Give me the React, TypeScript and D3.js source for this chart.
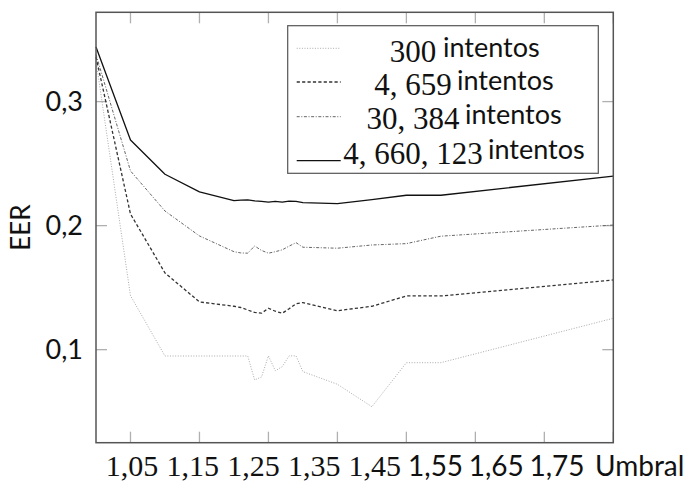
import React from "react";
import * as d3 from "d3";

const umbral = [1.0, 1.05, 1.1, 1.15, 1.2, 1.21, 1.22, 1.23, 1.24, 1.25, 1.26, 1.27, 1.28, 1.29, 1.3, 1.35, 1.4, 1.45, 1.5, 1.75];
const eer300 = [0.333, 0.1435, 0.0949, 0.0949, 0.0949, 0.0949, 0.0949, 0.0756, 0.078, 0.095, 0.083, 0.0863, 0.095, 0.095, 0.0823, 0.0721, 0.054, 0.0895, 0.0895, 0.1253];
const eer4659 = [0.336, 0.2094, 0.1619, 0.1385, 0.135, 0.134, 0.132, 0.13, 0.1294, 0.1334, 0.131, 0.1294, 0.133, 0.137, 0.138, 0.1314, 0.135, 0.1433, 0.1433, 0.1562];
const eer30384 = [0.338, 0.2441, 0.2118, 0.1917, 0.179, 0.178, 0.1778, 0.1836, 0.18, 0.1778, 0.179, 0.1805, 0.1835, 0.1863, 0.1826, 0.1818, 0.1844, 0.1855, 0.1915, 0.2005];
const eer4660123 = [0.344, 0.269, 0.2414, 0.2272, 0.2202, 0.2205, 0.2208, 0.22, 0.2195, 0.219, 0.2195, 0.219, 0.2198, 0.2195, 0.2185, 0.2177, 0.221, 0.2245, 0.2245, 0.24];

const seriesNumbers = ["300", "4, 659", "30, 384", "4, 660, 123"];
const seriesWord = "intentos";
const xTickValues = [1.05, 1.15, 1.25, 1.35, 1.45, 1.55, 1.65, 1.75];
const xTickLabels = ["1,05", "1,15", "1,25", "1,35", "1,45", "1,55", "1,65", "1,75"];
const yTickValues = [0.1, 0.2, 0.3];
const yTickLabels = ["0,1", "0,2", "0,3"];
const xLabel = "Umbral";
const yLabel = "EER";

const styles = [
  { stroke: "#aaaaaa", width: 1, dash: "1 1.6" },
  { stroke: "#333333", width: 1.3, dash: "3.2 2.2" },
  { stroke: "#666666", width: 1, dash: "3 1.6 1 1.6" },
  { stroke: "#111111", width: 1.3, dash: "" },
];

export default function App() {
  const L = 96, R = 613.3, T = 12.3, B = 442.7;
  const x = d3.scaleLinear().domain([1.0, 1.75]).range([L, R]);
  const y = d3.scaleLinear().domain([0.025, 0.372]).range([B, T]);
  const all = [eer300, eer4659, eer30384, eer4660123];
  const line = d3
    .line<number>()
    .x((_, i) => x(umbral[i]))
    .y((d) => y(d));
  const labelPos = d3.scalePoint<string>().domain(xTickLabels).range([132, 557]);
  const serifFont = "'Liberation Serif', 'DejaVu Serif', serif";
  const sansFont = "Lato, 'Open Sans', sans-serif";
  const legendRows = [48.3, 82, 116.7, 160.7];
  const legendBase = [61.5, 95, 128.5, 164];
  const wordStart = [443, 457, 465, 488];

  return (
    <svg width={684} height={484} style={{ position: "absolute", left: 0, top: 0, background: "#fff" }}>
      <rect x={0} y={0} width={684} height={484} fill="#fff" />
      {xTickValues.map((v) => (
        <g key={"xt" + v} stroke="#b0b0b0" strokeWidth={1.3}>
          <line x1={x(v)} x2={x(v)} y1={B} y2={B - 11} />
          <line x1={x(v)} x2={x(v)} y1={T} y2={T + 11} />
        </g>
      ))}
      {yTickValues.map((v) => (
        <g key={"yt" + v} stroke="#b0b0b0" strokeWidth={1.3}>
          <line x1={L} x2={L + 11} y1={y(v)} y2={y(v)} />
          <line x1={R} x2={R - 11} y1={y(v)} y2={y(v)} />
        </g>
      ))}
      {all.map((s, i) => (
        <path
          key={"s" + i}
          d={line(s) || ""}
          fill="none"
          stroke={styles[i].stroke}
          strokeWidth={styles[i].width}
          strokeDasharray={styles[i].dash}
          strokeLinejoin="round"
        />
      ))}
      <rect x={L} y={T} width={R - L} height={B - T} fill="none" stroke="#555" strokeWidth={1.5} />
      <rect x={287.7} y={25.7} width={310.6} height={147.6} fill="#fff" stroke="#555" strokeWidth={1.2} />
      {seriesNumbers.map((n, i) => (
        <g key={"lg" + i}>
          <line
            x1={296.7}
            x2={340.7}
            y1={legendRows[i]}
            y2={legendRows[i]}
            stroke={styles[i].stroke}
            strokeWidth={styles[i].width}
            strokeDasharray={styles[i].dash}
          />
          <text x={413} y={legendBase[i]} textAnchor="middle" fontFamily={serifFont} fontSize={31} fill="#111">
            {n}
          </text>
          <text x={wordStart[i]} y={legendBase[i] - 5} fontFamily={sansFont} fontSize={27} fill="#111">
            {seriesWord}
          </text>
        </g>
      ))}
      {xTickLabels.map((t, i) => (
        <text
          key={"xl" + t}
          x={labelPos(t)}
          y={476}
          textAnchor="middle"
          fontFamily={i < 5 ? serifFont : sansFont}
          fontSize={i < 5 ? 30 : 28}
          fill="#111"
        >
          {t}
        </text>
      ))}
      <text x={595} y={476} fontFamily={sansFont} fontSize={28} fill="#111">
        {xLabel}
      </text>
      {yTickValues.map((v, i) => (
        <text
          key={"yl" + v}
          x={83}
          y={y(v)}
          dy="0.35em"
          textAnchor="end"
          fontFamily={sansFont}
          fontSize={27}
          fill="#111"
        >
          {yTickLabels[i]}
        </text>
      ))}
      <text
        transform={`translate(30, ${(T + B) / 2}) rotate(-90)`}
        textAnchor="middle"
        fontFamily={sansFont}
        fontSize={26}
        fill="#111"
      >
        {yLabel}
      </text>
    </svg>
  );
}
